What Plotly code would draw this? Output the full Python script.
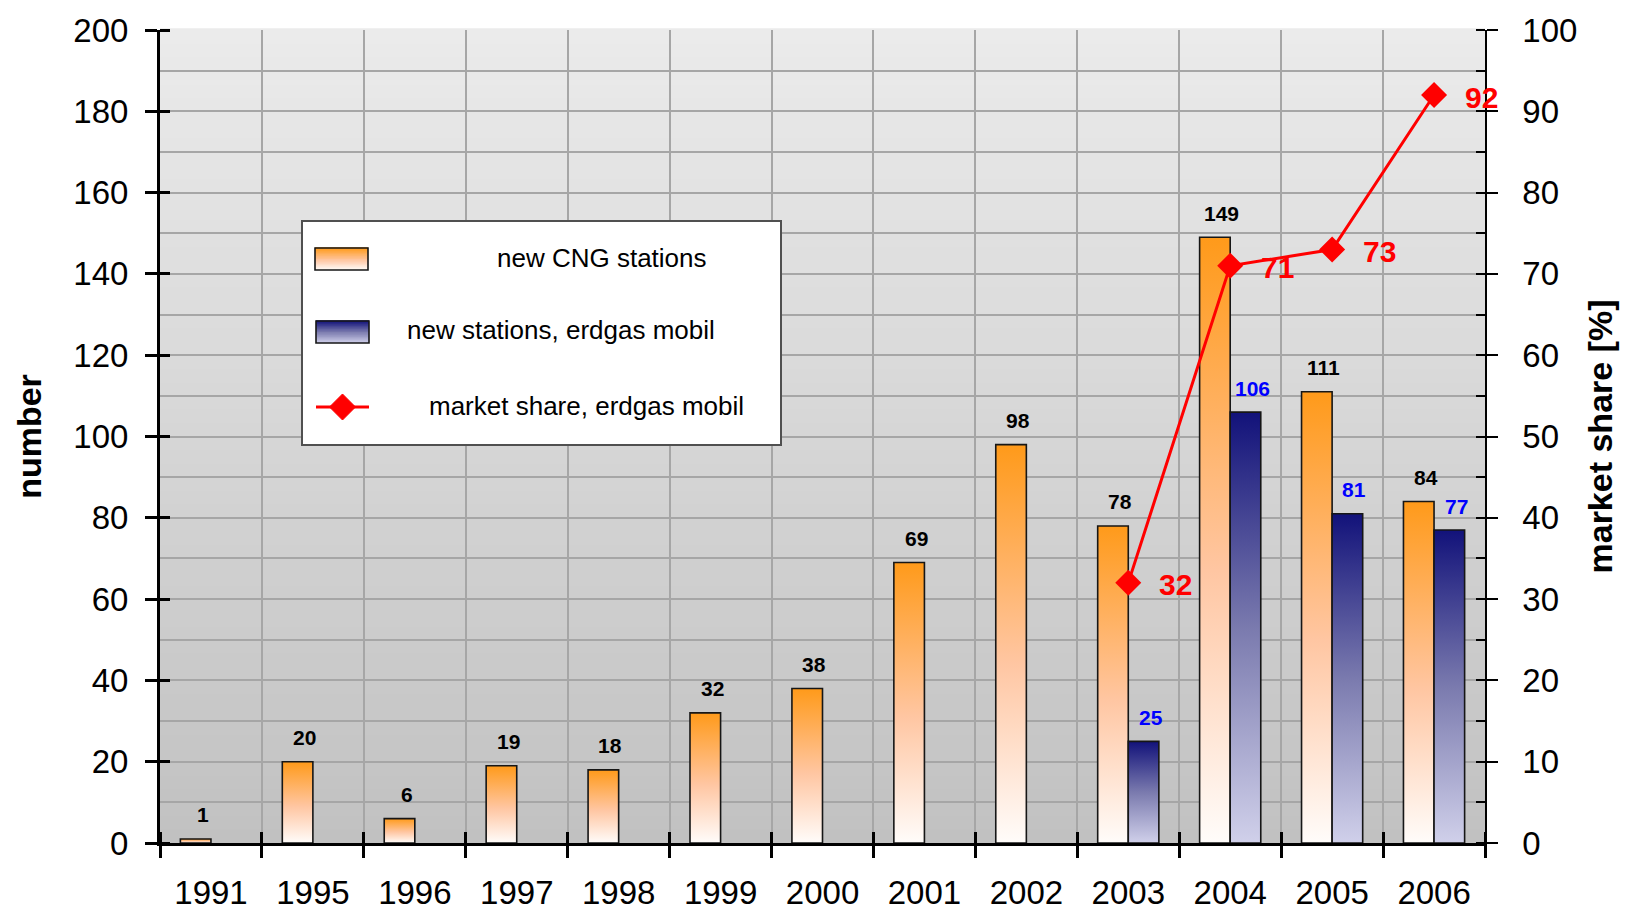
import plotly.graph_objects as go

# ---------------- data ----------------
years = ['1991', '1995', '1996', '1997', '1998', '1999', '2000',
         '2001', '2002', '2003', '2004', '2005', '2006']
cng_stations = [1, 20, 6, 19, 18, 32, 38, 69, 98, 78, 149, 111, 84]
mobil_stations = [None, None, None, None, None, None, None, None, None, 25, 106, 81, 77]
mobil_share = [None, None, None, None, None, None, None, None, None, 32, 71, 73, 92]

legend_labels = ['new CNG stations', 'new stations, erdgas mobil', 'market share, erdgas mobil']

# ---------------- layout geometry / style ----------------
W, H = 1629, 911
ML, MR, MT, MB = 152, 152, 22, 76
PW, PH = W - ML - MR, H - MT - MB
FONT = 'Liberation Sans, Arial, sans-serif'
BAR_W = 0.3
ORANGE = [[0, '#fffcfa'], [0.45, '#ffc6a2'], [1, '#ff9a1a']]
BLUE = [[0, '#d0d0ea'], [0.5, '#7a7aae'], [1, '#12127a']]
GRID = '#a6a6a6'
TICK_SIZE = 33


def pxx(x):
    return (x - ML) / PW


def pxy(y):
    return (H - MB - y) / PH


def lerp_hex(c0, c1, t):
    a = [int(c0[i:i + 2], 16) for i in (1, 3, 5)]
    b = [int(c1[i:i + 2], 16) for i in (1, 3, 5)]
    return '#' + ''.join('%02x' % round(a[k] + (b[k] - a[k]) * t) for k in range(3))


def scale_color(scale, t):
    for (t0, c0), (t1, c1) in zip(scale[:-1], scale[1:]):
        if t0 <= t <= t1:
            return lerp_hex(c0, c1, (t - t0) / (t1 - t0) if t1 > t0 else 0)
    return scale[-1][1]


idx = list(range(len(years)))
fig = go.Figure()

# ---------------- bars (gradient-filled) ----------------
for i, v in enumerate(cng_stations):
    if v is None:
        continue
    x0, x1 = i - BAR_W, i
    fig.add_trace(go.Scatter(
        x=[x0, x0, x1, x1, x0], y=[0, v, v, 0, 0], mode='lines', fill='toself',
        fillgradient=dict(type='vertical', colorscale=ORANGE),
        line=dict(color='#161616', width=1.6), name=legend_labels[0],
        showlegend=False, hoverinfo='skip'))

for i, v in enumerate(mobil_stations):
    if v is None:
        continue
    x0, x1 = i, i + BAR_W
    fig.add_trace(go.Scatter(
        x=[x0, x0, x1, x1, x0], y=[0, v, v, 0, 0], mode='lines', fill='toself',
        fillgradient=dict(type='vertical', colorscale=BLUE),
        line=dict(color='#161616', width=1.6), name=legend_labels[1],
        showlegend=False, hoverinfo='skip'))

# ---------------- market share line ----------------
fig.add_trace(go.Scatter(
    x=idx, y=mobil_share, yaxis='y2', mode='lines+markers', name=legend_labels[2],
    line=dict(color='#ff0000', width=3),
    marker=dict(symbol='diamond', size=20, color='#ff0000'),
    showlegend=False))

annotations = []
for i, v in enumerate(cng_stations):
    if v is not None:
        annotations.append(dict(x=i - BAR_W / 2, y=v, xref='x', yref='y', text=str(v),
                                showarrow=False, xshift=7, yshift=24,
                                font=dict(family=FONT, size=21, color='#000000', weight='bold')))
for i, v in enumerate(mobil_stations):
    if v is not None:
        annotations.append(dict(x=i + BAR_W / 2, y=v, xref='x', yref='y', text=str(v),
                                showarrow=False, xshift=7, yshift=24,
                                font=dict(family=FONT, size=21, color='#0000ff', weight='bold')))
for i, v in enumerate(mobil_share):
    if v is not None:
        annotations.append(dict(x=i, y=v, xref='x', yref='y2', text=str(v),
                                showarrow=False, xshift=47, yshift=-2,
                                font=dict(family=FONT, size=30, color='#ff0000', weight='bold')))

# ---------------- background gradient ----------------
shapes = []
N = 60
for k in range(N):
    t = k / N
    shapes.append(dict(type='rect', xref='x domain', yref='y domain', x0=0, x1=1,
                       y0=t, y1=t + 1.0 / N + 0.002, layer='below', line=dict(width=0),
                       fillcolor=lerp_hex('#c1c1c1', '#ebebeb', t + 0.5 / N)))

# ---------------- manual legend ----------------
shapes.append(dict(type='rect', xref='paper', yref='paper', x0=pxx(294), x1=pxx(773),
                   y0=pxy(437), y1=pxy(213), fillcolor='#ffffff',
                   line=dict(color='#505050', width=2), layer='above'))


def gradient_swatch(x0, x1, ytop, ybot, scale):
    n = 14
    for k in range(n):
        t = k / n
        shapes.append(dict(type='rect', xref='paper', yref='paper',
                           x0=pxx(x0), x1=pxx(x1),
                           y0=pxy(ybot - (ybot - ytop) * t),
                           y1=pxy(ybot - (ybot - ytop) * (t + 1.0 / n)) + 0.001,
                           fillcolor=scale_color(scale, t + 0.5 / n), line=dict(width=0),
                           layer='above'))
    shapes.append(dict(type='rect', xref='paper', yref='paper', x0=pxx(x0), x1=pxx(x1),
                       y0=pxy(ybot), y1=pxy(ytop), line=dict(color='#161616', width=1.6),
                       fillcolor='rgba(0,0,0,0)', layer='above'))


gradient_swatch(307, 360, 240, 262, ORANGE)
gradient_swatch(308, 361, 313, 335, BLUE)
shapes.append(dict(type='line', xref='paper', yref='paper', x0=pxx(308), x1=pxx(361),
                   y0=pxy(399), y1=pxy(399), line=dict(color='#ff0000', width=3),
                   layer='above'))
cx, cy, r = 334.5, 399, 13
shapes.append(dict(type='path', xref='paper', yref='paper', layer='above',
                   path='M %f %f L %f %f L %f %f L %f %f Z' % (
                       pxx(cx - r), pxy(cy), pxx(cx), pxy(cy - r),
                       pxx(cx + r), pxy(cy), pxx(cx), pxy(cy + r)),
                   fillcolor='#ff0000', line=dict(color='#ff0000', width=1)))

for (tx, ty), txt in zip([(594, 250), (553, 322), (578, 398)], legend_labels):
    annotations.append(dict(x=pxx(tx), y=pxy(ty), xref='paper', yref='paper', text=txt,
                            showarrow=False, xanchor='center', yanchor='middle',
                            font=dict(family=FONT, size=26, color='#000000')))

# ---------------- axes ----------------
boundaries = [i - 0.5 for i in range(len(years) + 1)]
fig.update_layout(
    width=W, height=H,
    margin=dict(l=ML, r=MR, t=MT, b=MB, autoexpand=False),
    paper_bgcolor='#ffffff', plot_bgcolor='#c1c1c1',
    font=dict(family=FONT, color='#000000'),
    showlegend=False,
    xaxis=dict(
        range=[-0.5, len(years) - 0.5], tickmode='array', tickvals=boundaries,
        ticktext=years + [''], ticklabelshift=int(round(PW / len(years) / 2)), tickangle=0,
        ticks='outside', ticklen=12, tickwidth=3, tickcolor='#000000',
        ticklabelstandoff=6,
        tickfont=dict(family=FONT, size=TICK_SIZE, color='#000000'),
        showgrid=True, gridcolor=GRID, gridwidth=1.5, zeroline=False,
        showline=True, linecolor='#000000', linewidth=3,
        minor=dict(tickmode='linear', tick0=-0.5, dtick=1, ticks='inside', ticklen=11,
                   tickwidth=3, tickcolor='#000000', showgrid=False),
        fixedrange=True),
    yaxis=dict(
        range=[0, 200], tickmode='linear', tick0=0, dtick=20,
        ticks='outside', ticklen=12, tickwidth=3, tickcolor='#000000',
        ticklabelstandoff=10,
        tickfont=dict(family=FONT, size=TICK_SIZE, color='#000000'),
        showgrid=False, zeroline=False,
        showline=True, linecolor='#000000', linewidth=3,
        minor=dict(tickmode='linear', tick0=0, dtick=20, ticks='inside', ticklen=10,
                   tickwidth=3, tickcolor='#000000', showgrid=False),
        title=dict(text='number', standoff=22,
                   font=dict(family=FONT, size=34, color='#000000', weight='bold')),
        fixedrange=True),
    yaxis2=dict(
        range=[0, 100], overlaying='y', side='right', anchor='x',
        tickmode='linear', tick0=0, dtick=10,
        ticks='outside', ticklen=11, tickwidth=1.5, tickcolor='#000000',
        ticklabelstandoff=18,
        tickfont=dict(family=FONT, size=TICK_SIZE, color='#000000'),
        showgrid=True, gridcolor=GRID, gridwidth=1.5, zeroline=False,
        showline=True, linecolor='#000000', linewidth=1.5,
        minor=dict(tickmode='linear', tick0=0, dtick=5, ticks='inside', ticklen=9,
                   tickwidth=1.5, tickcolor='#000000', showgrid=True, gridcolor=GRID,
                   gridwidth=1.5),
        title=dict(text='market share [%]', standoff=12,
                   font=dict(family=FONT, size=34, color='#000000', weight='bold')),
        fixedrange=True),
    shapes=shapes,
    annotations=annotations,
)

fig.write_html('out.html')
